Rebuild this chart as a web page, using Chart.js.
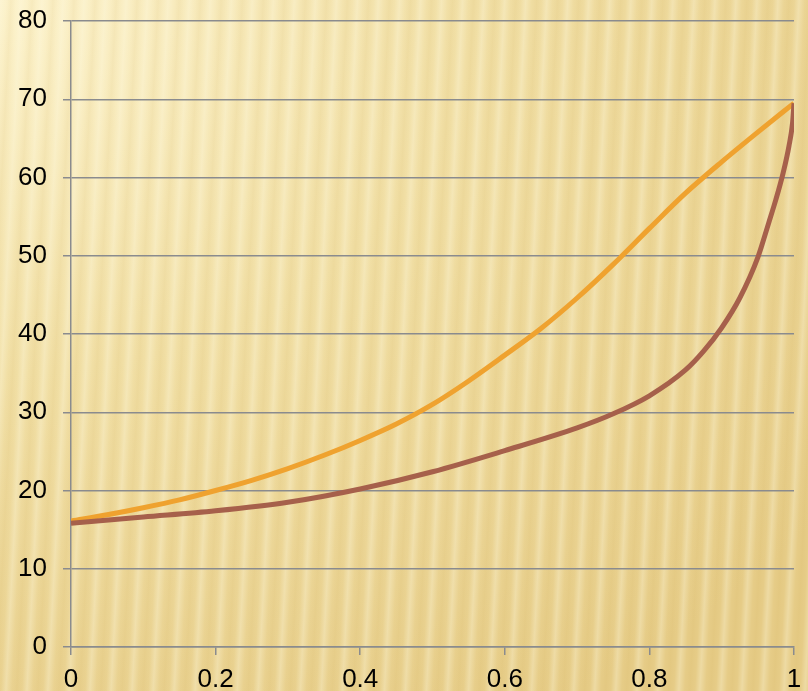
<!DOCTYPE html>
<html>
<head>
<meta charset="utf-8">
<script src="https://cdn.jsdelivr.net/npm/chart.js@4/dist/chart.umd.min.js"></script>
<style>
  html, body { margin: 0; padding: 0; }
  body {
    width: 808px; height: 691px; overflow: hidden;
    background:
      repeating-linear-gradient(93deg,
        rgba(255,251,228,0.30) 0px,
        rgba(255,251,228,0.0) 6px,
        rgba(196,156,62,0.08) 11px,
        rgba(255,251,228,0.0) 16px,
        rgba(255,251,228,0.30) 21px),
      radial-gradient(ellipse 130% 120% at 0% 0%, #FCF2CB 0%, #F1DFA5 45%, #E6CC87 100%);
  }
  #wrap { position: absolute; left: 0; top: 0; width: 808px; height: 691px; }
</style>
</head>
<body>
<div id="wrap"><canvas id="c" width="808" height="691"></canvas></div>
<script>
// Upper curve (orange)
const orangeX = [0, 0.05, 0.1, 0.15, 0.2, 0.25, 0.3, 0.35, 0.4, 0.45, 0.5, 0.55, 0.6, 0.65, 0.7, 0.75, 0.8, 0.85, 0.9, 0.95, 1];
const orangeY = [16.1, 16.9, 17.8, 18.8, 20.0, 21.3, 22.8, 24.5, 26.4, 28.5, 31.0, 34.0, 37.3, 40.7, 44.6, 48.9, 53.5, 58.0, 62.0, 65.8, 69.5];

// Lower curve (brown)
const brownX = [0, 0.1, 0.2, 0.3, 0.4, 0.5, 0.6, 0.7, 0.75, 0.8, 0.85, 0.875, 0.9, 0.925, 0.95, 0.965, 0.975, 0.985, 0.993, 0.998, 1];
const brownY = [15.8, 16.6, 17.4, 18.5, 20.2, 22.4, 25.1, 28.0, 29.8, 32.1, 35.4, 37.8, 40.8, 44.6, 49.8, 54.2, 57.2, 60.6, 64.0, 67.0, 69.5];

// Axis ticks
const xTicks = [0, 0.2, 0.4, 0.6, 0.8, 1];
const yTicks = [0, 10, 20, 30, 40, 50, 60, 70, 80];

const toPoints = (xs, ys) => xs.map((x, i) => ({ x: x, y: ys[i] }));

const gridColor = '#8A8B8E';
const tickFont = { family: '"Liberation Sans", Arial, sans-serif', size: 26, lineHeight: 1 };

new Chart(document.getElementById('c'), {
  type: 'scatter',
  data: {
    datasets: [
      {
        data: toPoints(orangeX, orangeY),
        showLine: true,
        borderColor: '#EFA22F',
        borderWidth: 5,
        pointRadius: 0,
        cubicInterpolationMode: 'monotone',
        order: 1
      },
      {
        data: toPoints(brownX, brownY),
        showLine: true,
        borderColor: '#A6604B',
        borderWidth: 5,
        pointRadius: 0,
        cubicInterpolationMode: 'monotone',
        order: 0
      }
    ]
  },
  options: {
    responsive: false,
    animation: false,
    layout: { padding: { top: 21, right: 14, left: 0, bottom: 0 } },
    plugins: { legend: { display: false }, tooltip: { enabled: false } },
    scales: {
      x: {
        type: 'linear',
        min: 0, max: 1,
        afterBuildTicks: (s) => { s.ticks = xTicks.map(v => ({ value: v })); },
        afterFit: (s) => { s.height = 44; s.paddingLeft = 0; s.paddingRight = 0; },
        grid: { drawOnChartArea: false, drawTicks: true, tickLength: 8, color: gridColor, lineWidth: 1.5 },
        border: { display: true, color: gridColor, width: 1.5 },
        ticks: { color: '#000', font: tickFont, padding: 12, maxRotation: 0,
                 callback: (v) => String(v) }
      },
      y: {
        type: 'linear',
        min: 0, max: 80,
        afterBuildTicks: (s) => { s.ticks = yTicks.map(v => ({ value: v })); },
        afterFit: (s) => { s.width = 71; s.paddingTop = 0; s.paddingBottom = 0; },
        grid: { drawOnChartArea: true, drawTicks: true, tickLength: 8, color: gridColor, lineWidth: 1.5 },
        border: { display: true, color: gridColor, width: 1.5 },
        ticks: { color: '#000', font: tickFont, padding: 16 }
      }
    }
  }
});
</script>
</body>
</html>
